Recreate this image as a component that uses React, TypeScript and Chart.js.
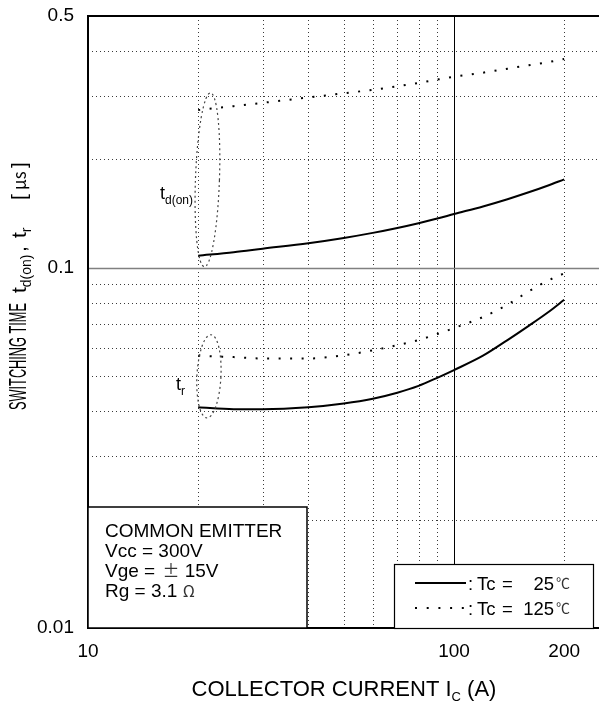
import { useEffect, useRef } from "react";
import { Chart, registerables } from "chart.js";

Chart.register(...registerables);

// Collector current sample points (A)
const collectorCurrent = [20, 25, 30, 40, 50, 60, 70, 80, 90, 100, 120, 140, 160, 180, 200];
// Turn-on delay time t_d(on) in microseconds
const tdOn25C = [0.108, 0.1105, 0.113, 0.117, 0.121, 0.125, 0.129, 0.133, 0.137, 0.141, 0.148, 0.155, 0.162, 0.169, 0.176];
const tdOn125C = [0.274, 0.281, 0.287, 0.297, 0.305, 0.312, 0.319, 0.326, 0.333, 0.339, 0.348, 0.357, 0.365, 0.372, 0.38];
// Rise time t_r in microseconds
const tr25C = [0.041, 0.0405, 0.0405, 0.041, 0.042, 0.0433, 0.045, 0.047, 0.0495, 0.052, 0.057, 0.063, 0.069, 0.075, 0.0815];
const tr125C = [0.057, 0.0565, 0.056, 0.056, 0.0572, 0.059, 0.061, 0.063, 0.0655, 0.068, 0.073, 0.079, 0.086, 0.092, 0.0965];

const xTickValues = [10, 100, 200];
const yTickValues = [0.01, 0.1, 0.5];
const xGridDotted = [20, 30, 40, 50, 60, 70, 80, 90, 200];
const xGridSolid = [100];
const yGridDotted = [0.02, 0.03, 0.04, 0.05, 0.06, 0.07, 0.08, 0.09, 0.2, 0.3, 0.4];
const yGridSolid = [0.1];

const X_MIN = 10;
const X_MAX = 249;
const Y_MIN = 0.01;
const Y_MAX = 0.5;

const SANS = "'Liberation Sans', Arial, Helvetica, sans-serif";
const CJK = "'Noto Sans CJK JP', 'Noto Sans', sans-serif";

// A run of text; `at` places it at an absolute offset, `len` squeezes it to a given length
type Run = { text: string; font: string; dy?: number; gap?: number; at?: number; len?: number; color?: string };

const conditionLines: Run[][] = [
  [{ text: "COMMON EMITTER", font: `19px ${SANS}` }],
  [{ text: "Vcc = 300V", font: `19px ${SANS}` }],
  [
    { text: "Vge = ", font: `19px ${SANS}` },
    { text: "±", font: `17px ${CJK}`, color: "#333", gap: 2 },
    { text: " 15V", font: `19px ${SANS}` },
  ],
  [
    { text: "Rg = 3.1 ", font: `19px ${SANS}` },
    { text: "Ω", font: `16px ${CJK}`, color: "#333" },
  ],
];

const legendEntries = [
  { temp: "25", dashed: false },
  { temp: "125", dashed: true },
];

function drawRuns(ctx: CanvasRenderingContext2D, runs: Run[], x: number, y: number): number {
  let cx = x;
  for (const r of runs) {
    if (r.at !== undefined) cx = x + r.at;
    cx += r.gap || 0;
    ctx.font = r.font;
    ctx.fillStyle = r.color || "#000";
    const natural = ctx.measureText(r.text).width;
    const sx = r.len ? r.len / natural : 1;
    ctx.save();
    ctx.translate(cx, y + (r.dy || 0));
    ctx.scale(sx, 1);
    ctx.fillText(r.text, 0, 0);
    ctx.restore();
    cx += natural * sx;
  }
  return cx;
}

const yTitleRuns: Run[] = [
  { text: "SWITCHING TIME", font: `23px ${SANS}`, at: 0, len: 107 },
  { text: "t", font: `21px ${SANS}`, at: 117 },
  { text: "d(on)", font: `14px ${SANS}`, dy: 5 },
  { text: ",", font: `21px ${SANS}`, at: 158 },
  { text: "t", font: `21px ${SANS}`, at: 172 },
  { text: "r", font: `14px ${SANS}`, dy: 5 },
  { text: "[", font: `21px ${SANS}`, at: 210 },
  { text: "μs", font: `17px ${CJK}`, at: 220 },
  { text: "]", font: `21px ${SANS}`, at: 242 },
];

const xTitleRuns: Run[] = [
  { text: "COLLECTOR CURRENT I", font: `22px ${SANS}` },
  { text: "C", font: `13px ${SANS}`, dy: 5 },
  { text: " (A)", font: `22px ${SANS}` },
];

const chartDecor = {
  id: "chartDecor",
  beforeDatasetsDraw(chart: Chart) {
    const { ctx, chartArea: a } = chart;
    const x = chart.scales.x;
    const y = chart.scales.y;
    ctx.save();
    ctx.lineWidth = 1;
    ctx.strokeStyle = "#3a3a3a";
    ctx.setLineDash([1, 3]);
    for (const v of xGridDotted) {
      const px = Math.round(x.getPixelForValue(v)) + 0.5;
      ctx.beginPath();
      ctx.moveTo(px, a.top);
      ctx.lineTo(px, a.bottom);
      ctx.stroke();
    }
    for (const v of yGridDotted) {
      const py = Math.round(y.getPixelForValue(v)) + 0.5;
      ctx.beginPath();
      ctx.moveTo(a.left, py);
      ctx.lineTo(a.right, py);
      ctx.stroke();
    }
    ctx.setLineDash([]);
    ctx.strokeStyle = "#000";
    for (const v of xGridSolid) {
      const px = Math.round(x.getPixelForValue(v)) + 0.5;
      ctx.beginPath();
      ctx.moveTo(px, a.top);
      ctx.lineTo(px, a.bottom);
      ctx.stroke();
    }
    ctx.strokeStyle = "#808080";
    ctx.lineWidth = 1.5;
    for (const v of yGridSolid) {
      const py = Math.round(y.getPixelForValue(v)) + 0.5;
      ctx.beginPath();
      ctx.moveTo(a.left, py);
      ctx.lineTo(a.right, py);
      ctx.stroke();
    }
    ctx.restore();
  },
  afterDatasetsDraw(chart: Chart) {
    const { ctx, chartArea: a } = chart;
    const x = chart.scales.x;
    const y = chart.scales.y;
    ctx.save();

    // dashed ellipses grouping the curve starts
    ctx.strokeStyle = "#444";
    ctx.lineWidth = 1.2;
    ctx.setLineDash([2, 3]);
    const groups = [
      { xv: 21.2, top: 0.306, bottom: 0.1006, rx: 12, rot: 0.035 },
      { xv: 21.4, top: 0.0652, bottom: 0.0383, rx: 12, rot: 0.05 },
    ];
    for (const g of groups) {
      const cx = x.getPixelForValue(g.xv);
      const t = y.getPixelForValue(g.top);
      const b = y.getPixelForValue(g.bottom);
      ctx.beginPath();
      ctx.ellipse(cx, (t + b) / 2, g.rx, (b - t) / 2, g.rot, 0, Math.PI * 2);
      ctx.stroke();
    }
    ctx.setLineDash([]);

    // curve labels
    ctx.textBaseline = "alphabetic";
    drawRuns(ctx, [
      { text: "t", font: `18px ${SANS}` },
      { text: "d(on)", font: `12px ${SANS}`, dy: 5 },
    ], 160, 199);
    drawRuns(ctx, [
      { text: "t", font: `18px ${SANS}` },
      { text: "r", font: `12px ${SANS}`, dy: 5 },
    ], 176, 390);

    // plot frame: top, left and bottom edges
    ctx.strokeStyle = "#000";
    ctx.lineWidth = 2;
    ctx.beginPath();
    ctx.moveTo(a.right, a.top);
    ctx.lineTo(a.left, a.top);
    ctx.lineTo(a.left, a.bottom);
    ctx.lineTo(a.right, a.bottom);
    ctx.stroke();

    // test conditions box
    const bx0 = a.left, by0 = 507, bx1 = 307, by1 = a.bottom;
    ctx.fillStyle = "#fff";
    ctx.fillRect(bx0, by0, bx1 - bx0, by1 - by0);
    ctx.lineWidth = 1.5;
    ctx.strokeRect(bx0, by0, bx1 - bx0, by1 - by0);
    conditionLines.forEach((line, i) => drawRuns(ctx, line, 105, 537 + i * 20));

    // legend box
    const lx0 = 394, ly0 = 564, lx1 = 593, ly1 = a.bottom;
    ctx.fillStyle = "#fff";
    ctx.fillRect(lx0, ly0, lx1 - lx0, ly1 - ly0);
    ctx.strokeStyle = "#000";
    ctx.lineWidth = 1.2;
    ctx.strokeRect(lx0 + 0.5, ly0 + 0.5, lx1 - lx0, ly1 - ly0);
    legendEntries.forEach((e, i) => {
      const ly = 583 + i * 25;
      ctx.strokeStyle = "#000";
      ctx.lineWidth = 2;
      ctx.setLineDash(e.dashed ? [2, 9.7] : []);
      ctx.beginPath();
      ctx.moveTo(415, ly);
      ctx.lineTo(466, ly);
      ctx.stroke();
      ctx.setLineDash([]);
      const base = ly + 7;
      ctx.fillStyle = "#000";
      ctx.font = `18.5px ${SANS}`;
      ctx.textAlign = "left";
      ctx.fillText(":", 468, base);
      ctx.fillText("Tc", 477, base);
      ctx.fillText("=", 502, base);
      ctx.textAlign = "right";
      ctx.fillText(e.temp, 554, base);
      ctx.textAlign = "left";
      ctx.font = `14px ${CJK}`;
      ctx.fillStyle = "#333";
      ctx.fillText("℃", 556, base - 2);
    });

    ctx.restore();
  },
  afterDraw(chart: Chart) {
    const { ctx } = chart;
    ctx.save();
    ctx.textAlign = "left";
    ctx.textBaseline = "alphabetic";
    // x axis title, centred under the plot
    let w = 0;
    for (const r of xTitleRuns) {
      ctx.font = r.font;
      w += ctx.measureText(r.text).width;
    }
    drawRuns(ctx, xTitleRuns, 344 - w / 2, 696);
    // y axis title, rotated
    ctx.translate(26, 410);
    ctx.rotate(-Math.PI / 2);
    drawRuns(ctx, yTitleRuns, 0, 0);
    ctx.restore();
  },
};

export default function App() {
  const canvasRef = useRef<HTMLCanvasElement | null>(null);

  useEffect(() => {
    const canvas = canvasRef.current;
    if (!canvas) return;
    const toPoints = (vals: number[]) => collectorCurrent.map((c, i) => ({ x: c, y: vals[i] }));
    const solid = { borderColor: "#000", borderWidth: 2, pointRadius: 0, tension: 0.4, cubicInterpolationMode: "monotone" as const };
    const dotted = { ...solid, borderDash: [2, 9.5] };

    const chart = new Chart(canvas, {
      type: "line",
      data: {
        datasets: [
          { label: "td(on) Tc=25°C", data: toPoints(tdOn25C), ...solid },
          { label: "td(on) Tc=125°C", data: toPoints(tdOn125C), ...dotted },
          { label: "tr Tc=25°C", data: toPoints(tr25C), ...solid },
          { label: "tr Tc=125°C", data: toPoints(tr125C), ...dotted },
        ],
      },
      options: {
        animation: false,
        responsive: false,
        devicePixelRatio: 1,
        events: [],
        layout: { padding: { top: 16, right: 0, bottom: 0, left: 0 } },
        plugins: { legend: { display: false }, tooltip: { enabled: false } },
        scales: {
          x: {
            type: "logarithmic",
            min: X_MIN,
            max: X_MAX,
            grid: { display: false, drawTicks: false },
            border: { display: false },
            afterBuildTicks: (s: any) => {
              s.ticks = xTickValues.map((v) => ({ value: v }));
            },
            afterFit: (s: any) => {
              s.height = 77;
              s.paddingLeft = 0;
              s.paddingRight = 0;
            },
            ticks: {
              padding: 12,
              maxRotation: 0,
              autoSkip: false,
              color: "#000",
              font: { family: SANS, size: 19 },
              callback: (v: any) => String(v),
            },
          },
          y: {
            type: "logarithmic",
            min: Y_MIN,
            max: Y_MAX,
            grid: { display: false, drawTicks: false },
            border: { display: false },
            afterBuildTicks: (s: any) => {
              s.ticks = yTickValues.map((v) => ({ value: v }));
            },
            afterFit: (s: any) => {
              s.width = 88;
              s.paddingTop = 0;
              s.paddingBottom = 0;
            },
            ticks: {
              padding: 14,
              autoSkip: false,
              color: "#000",
              font: { family: SANS, size: 19 },
              callback: (v: any) => String(v),
            },
          },
        },
      },
      plugins: [chartDecor],
    });
    return () => chart.destroy();
  }, []);

  return (
    <div style={{ position: "fixed", left: 0, top: 0, width: 599, height: 705, background: "#fff" }}>
      <canvas ref={canvasRef} width={599} height={705} style={{ display: "block" }} />
    </div>
  );
}
